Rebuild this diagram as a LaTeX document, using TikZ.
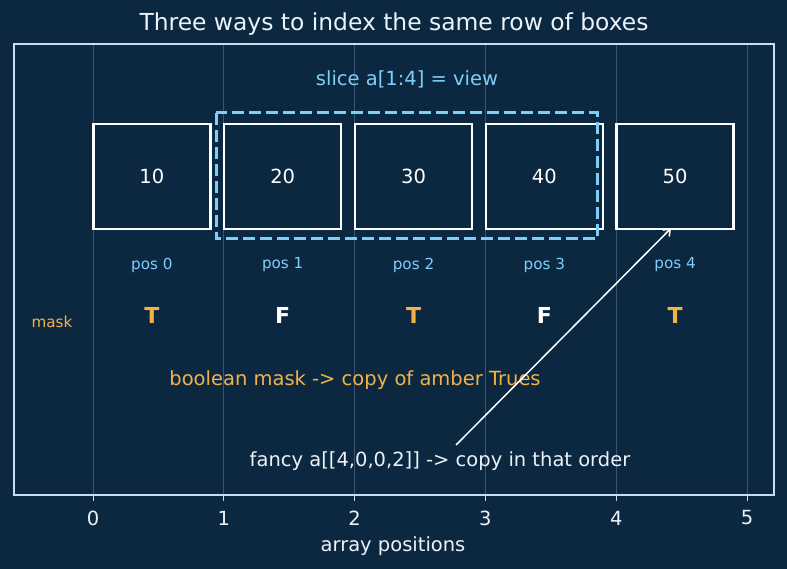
\documentclass[tikz,border=0pt]{standalone}
\usepackage{fontspec}
\setmainfont{DejaVu Sans}
\usetikzlibrary{arrows.meta, positioning}
\definecolor{navybg}{RGB}{12, 40, 64}
\definecolor{framecol}{RGB}{200, 222, 238}
\definecolor{gridcol}{RGB}{58, 86, 112}
\definecolor{skyblue}{RGB}{126, 206, 250}
\definecolor{amber}{RGB}{242, 178, 72}
\definecolor{softwhite}{RGB}{236, 242, 248}

\tikzset{
  cell/.style={draw=white, line width=2.3pt, minimum width=117pt, minimum height=105pt,
    text=white, font=\fontsize{19.5}{23}\selectfont, inner sep=0pt},
  poslabel/.style={text=skyblue, font=\fontsize{15.2}{18}\selectfont},
  flag/.style={font=\fontsize{22}{26}\selectfont\bfseries},
  gridline/.style={gridcol, line width=0.7pt},
  ticklabel/.style={text=softwhite, font=\fontsize{19.5}{23}\selectfont}
}

\begin{document}
\begin{tikzpicture}[x=1pt, y=-1pt]
  % 背景
  \fill[navybg] (0,0) rectangle (787,569);
  \useasboundingbox (0,0) rectangle (787,569);

  % 标题
  \node[text=softwhite, font=\fontsize{23.4}{27}\selectfont] (title) at (394,24) {Three ways to index the same row of boxes};

  % 网格线与刻度
  \foreach \i in {0,...,5} {
    \draw[gridline] ({93+130.8*\i},44) -- ({93+130.8*\i},495);
    \draw[framecol, line width=1pt] ({93+130.8*\i},495) -- ({93+130.8*\i},501);
    \node[ticklabel] (tick\i) at ({93+130.8*\i},518) {\i};
  }
  \node[ticklabel] (xlabel) at (393,546) {array positions};

  % 坐标框
  \draw[framecol, line width=1.3pt] (14,44) rectangle (774,495);

  % 切片标注
  \node[text=skyblue, font=\fontsize{19.5}{23}\selectfont] (slicelbl) at (407,79) {slice a[1:4] = view};

  % 方框与位置
  \foreach \val [count=\i from 0] in {10,20,30,40,50} {
    \node[cell] (b\i) at ({151.9+130.8*\i},176.5) {\val};
    \node[poslabel] (pos\i) at ({151.9+130.8*\i},265) {pos \i};
  }

  % 视图虚线框
  \draw[skyblue, line width=3pt, dash pattern=on 12pt off 5pt] (216,113) rectangle (597,239);

  % 布尔掩码
  \node[text=amber, font=\fontsize{15.2}{18}\selectfont] (masklbl) at (52,322) {mask};
  \foreach \v/\c [count=\i from 0] in {T/amber, F/white, T/amber, F/white, T/amber} {
    \node[flag, text=\c] (m\i) at ({151.9+130.8*\i},315) {\v};
  }
  \node[text=amber, font=\fontsize{19.5}{23}\selectfont] (boollbl) at (355,380) {boolean mask -> copy of amber Trues};

  % 花式索引
  \node[text=softwhite, font=\fontsize{19.5}{23}\selectfont] (fancylbl) at (440,461) {fancy a[[4,0,0,2]] -> copy in that order};
  \coordinate (fancytail) at (456,445);
  \draw[white, line width=1.5pt, -{Straight Barb[length=6pt, width=9pt]}] (fancytail) -- ([xshift=-4pt, yshift=2pt]b4.south);
\end{tikzpicture}
\end{document}
